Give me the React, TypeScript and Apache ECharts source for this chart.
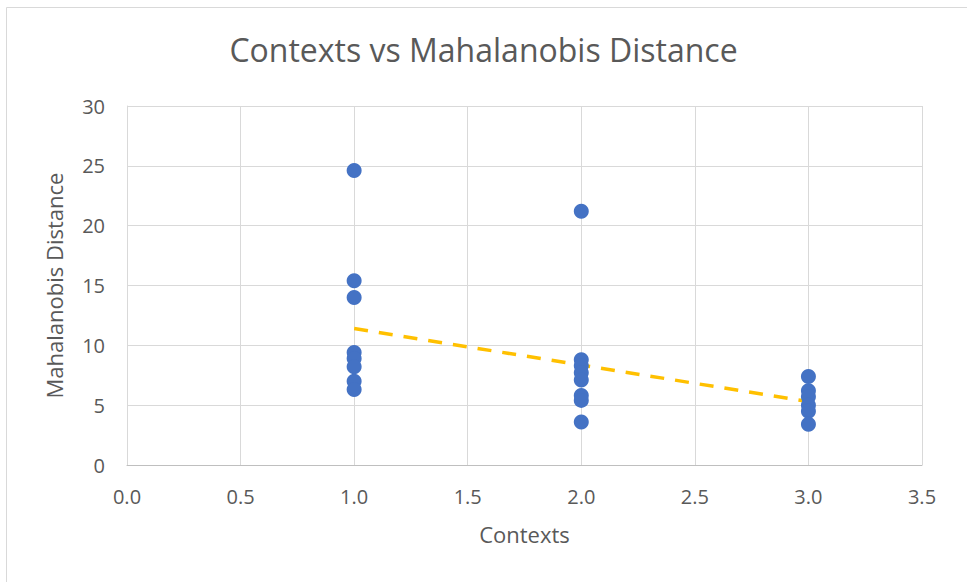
import React, { useEffect, useRef } from "react";
import * as echarts from "echarts";

const contextsA = [1, 1, 1, 1, 1, 1, 1, 1];
const distanceA = [24.6, 15.4, 14.0, 9.4, 8.9, 8.2, 7.0, 6.3];
const contextsB = [2, 2, 2, 2, 2, 2, 2, 2];
const distanceB = [21.2, 8.8, 8.3, 7.7, 7.1, 5.8, 5.4, 3.6];
const contextsC = [3, 3, 3, 3, 3, 3];
const distanceC = [7.4, 6.2, 5.7, 5.0, 4.5, 3.4];
const trendX = [1, 3];
const trendY = [11.4, 5.3];

const FONT = "'Open Sans', sans-serif";
const TXT = "#595959";

export default function App() {
  const ref = useRef<HTMLDivElement>(null);
  useEffect(() => {
    const chart = echarts.init(ref.current!, undefined, { renderer: "svg" });
    const xs = [...contextsA, ...contextsB, ...contextsC];
    const ys = [...distanceA, ...distanceB, ...distanceC];
    const pts = xs.map((x, i) => [x, ys[i]]);
    const trend = trendX.map((x, i) => [x, trendY[i]]);
    chart.setOption({
      animation: false,
      backgroundColor: "#ffffff",
      title: {
        text: "Contexts vs Mahalanobis Distance",
        left: "center",
        top: 28,
        textStyle: { fontFamily: FONT, fontSize: 32, fontWeight: "normal", color: TXT },
      },
      graphic: [
        {
          type: "rect",
          shape: { x: 6.5, y: 7.5, width: 968, height: 600 },
          style: { fill: "none", stroke: "#d9d9d9", lineWidth: 1 },
          silent: true,
        },
      ],
      grid: { left: 127, right: 45, top: 106, bottom: 117 },
      xAxis: {
        type: "value",
        min: 0,
        max: 3.5,
        interval: 0.5,
        name: "Contexts",
        nameLocation: "middle",
        nameGap: 58,
        nameTextStyle: { fontFamily: FONT, fontSize: 22, color: TXT },
        axisLine: { show: true, onZero: false, lineStyle: { color: "#bfbfbf", width: 1 } },
        axisTick: { show: false },
        axisLabel: {
          fontFamily: FONT,
          fontSize: 20,
          color: TXT,
          margin: 21,
          formatter: (v: number) => v.toFixed(1),
        },
        splitLine: { show: true, lineStyle: { color: "#d9d9d9", width: 1 } },
      },
      yAxis: {
        type: "value",
        min: 0,
        max: 30,
        interval: 5,
        name: "Mahalanobis Distance",
        nameLocation: "middle",
        nameGap: 62,
        nameTextStyle: { fontFamily: FONT, fontSize: 22, color: TXT },
        axisLine: { show: true, lineStyle: { color: "#d9d9d9", width: 1 } },
        axisTick: { show: false },
        axisLabel: { fontFamily: FONT, fontSize: 20, color: TXT, margin: 22 },
        splitLine: { show: true, lineStyle: { color: "#d9d9d9", width: 1 } },
      },
      series: [
        {
          type: "line",
          data: trend,
          showSymbol: false,
          symbol: "none",
          lineStyle: { color: "#ffc000", width: 3.5, type: [14, 11] },
          z: 1,
        },
        {
          type: "scatter",
          data: pts,
          symbolSize: 15,
          itemStyle: { color: "#4472c4", opacity: 1 },
          z: 2,
        },
      ],
    });
    return () => chart.dispose();
  }, []);
  return (
    <div
      ref={ref}
      style={{ position: "fixed", left: 0, top: 0, width: 967, height: 582 }}
    />
  );
}
